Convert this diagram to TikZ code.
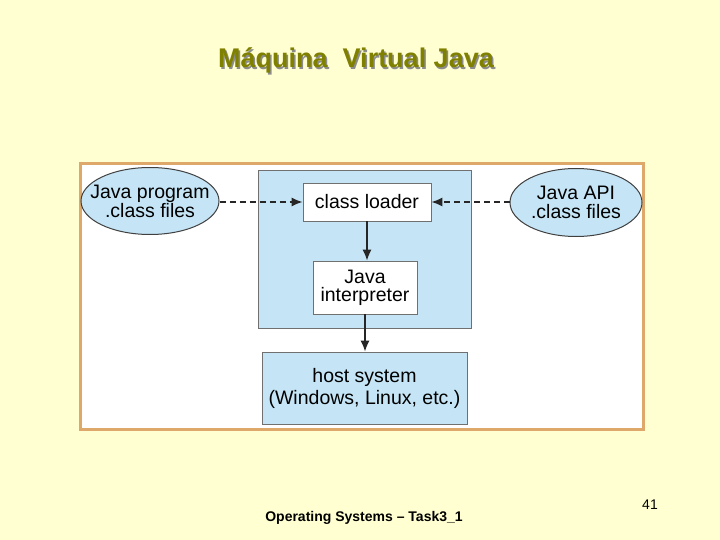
\documentclass[tikz,border=0pt]{standalone}
\usepackage{fontspec}
\setmainfont{Liberation Sans}
\usetikzlibrary{shapes.geometric,arrows.meta}
\definecolor{bg}{HTML}{FFFFD2}
\definecolor{olive}{HTML}{808000}
\definecolor{frameline}{HTML}{DDA86A}
\definecolor{jvm}{HTML}{C5E5F6}
\definecolor{edge}{HTML}{707070}
\tikzset{
  whitebox/.style={draw=edge, fill=white, line width=0.8pt, font=\fontsize{19.5}{20}\selectfont, align=center, inner sep=0pt},
  bluebox/.style={draw=edge, fill=jvm, line width=0.8pt, inner sep=0pt},
  fileell/.style={ellipse, draw=black!75, fill=jvm, line width=1pt, font=\fontsize{19.5}{19}\selectfont, align=center, inner xsep=-12pt, inner ysep=0pt},
  solidarrow/.style={-{Latex[length=11pt,width=9pt]}, line width=1.4pt, black!85},
  dasharrow/.style={-{Latex[length=11pt,width=9pt]}, line width=1.4pt, dashed, dash pattern=on 6pt off 4pt, black!85},
}
\begin{document}
\begin{tikzpicture}[x=1pt,y=-1pt]
\useasboundingbox (0,0) rectangle (720,540);
\fill[bg] (0,0) rectangle (720,540);
% title with shadow
\node[text=black!45, font=\fontsize{27}{30}\selectfont\bfseries] at (357.5,62) {Máquina\ \ Virtual Java};
\node[text=olive, font=\fontsize{27}{30}\selectfont\bfseries] (title) at (356,60.5) {Máquina\ \ Virtual Java};
% frame
\node[draw=frameline, line width=3.5pt, fill=white, minimum width=563pt, minimum height=266pt, inner sep=0pt] (frame) at (362,296.5) {};
% JVM region
\node[bluebox, minimum width=213pt, minimum height=158pt] (jvm) at (364.5,249) {};
\node[whitebox, minimum width=128pt, minimum height=38pt] (loader) at (367,202) {class loader};
\node[whitebox, minimum width=104pt, minimum height=53pt] (interp) at (365,287.5) {Java\\[-2pt]interpreter};
\node[bluebox, minimum width=205pt, minimum height=72pt, font=\fontsize{19.5}{22}\selectfont, align=center] (host) at (364.5,388) {host system\\(Windows, Linux, etc.)};
% ellipses
\node[fileell, minimum width=138pt, minimum height=67pt] (prog) at (150,201) {Java program\\.class files};
\node[fileell, minimum width=132pt, minimum height=68pt] (api) at (576,202.5) {Java API\\.class files};
% connectors
\draw[dasharrow] (prog.east |- loader.west) -- (loader.west);
\draw[dasharrow] (api.west |- loader.east) -- (loader.east);
\draw[solidarrow] (loader.south) -- (loader.south |- interp.north);
\draw[solidarrow] (interp.south) -- (interp.south |- host.north);
% footer
\node[font=\fontsize{14}{16}\selectfont\bfseries] (footer) at (364,518) {Operating Systems – Task3\_1};
\node[font=\fontsize{14}{16}\selectfont] (pagenum) at (650,505) {41};
\end{tikzpicture}
\end{document}
